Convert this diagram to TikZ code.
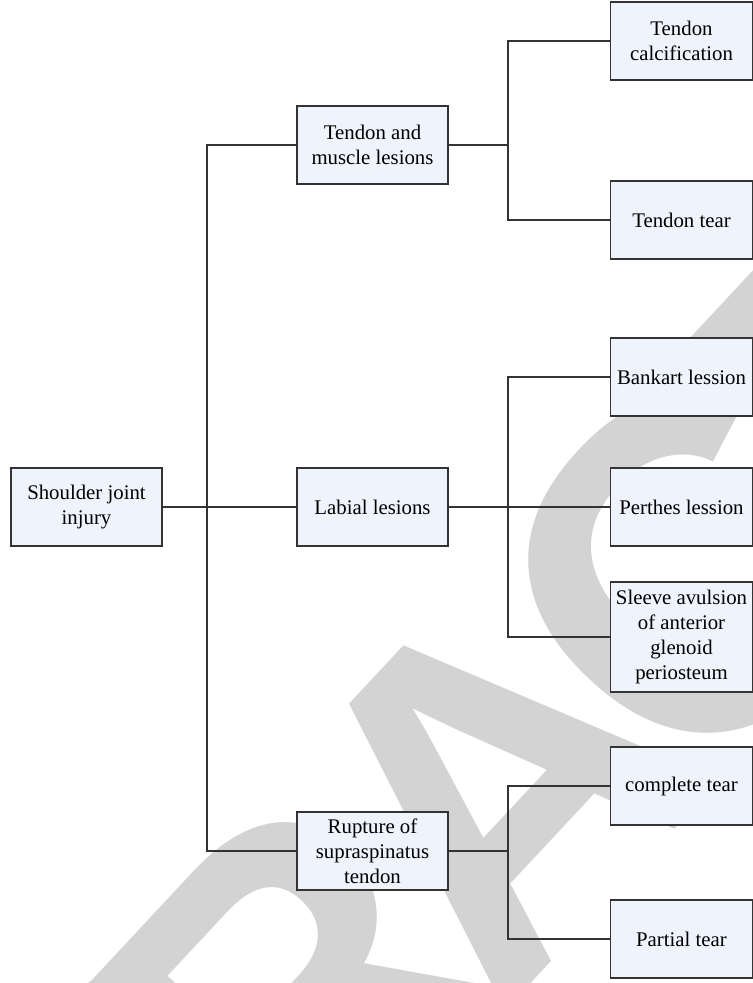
\documentclass[tikz,border=0pt]{standalone}
\usepackage{fontspec}
\setmainfont{Liberation Serif}
\newfontfamily\stampfont[LetterSpace=-10]{Liberation Sans}
\usepackage{xcolor}
\definecolor{boxfill}{RGB}{239,243,251}
\definecolor{linegray}{RGB}{51,51,51}
\definecolor{stampgray}{RGB}{211,211,211}
\usepackage{tikz}
\usetikzlibrary{positioning}
\tikzset{
  cat/.style={draw=linegray,fill=boxfill,line width=0.75pt,minimum width=75.5pt,minimum height=39pt,
    align=center,inner sep=2pt,font=\fontsize{10.4}{12.5}\selectfont},
  leafbox/.style={cat,minimum width=71pt},
  link/.style={draw=linegray,line width=0.75pt},
  stamp/.style={text=stampgray,rotate=47,inner sep=0pt,font=\stampfont\bfseries\fontsize{235}{235}\selectfont}
}

\begin{document}
\begin{tikzpicture}[x=0.5pt,y=-0.5pt]
  \useasboundingbox (0,0) rectangle (752,983);
  \begin{scope}
    \clip (0,0) rectangle (752,983);
    \node[stamp] (mark) at (495,785) {RETRACTED};
  \end{scope}

  \node[cat] (root) at (86.5,507) {Shoulder joint\\injury};
  \node[cat] (tml) at (372.5,145) {Tendon and\\muscle lesions};
  \node[cat] (lab) at (372.5,507) {Labial lesions};
  \node[cat] (rup) at (372.5,851) {Rupture of\\supraspinatus\\tendon};

  \node[leafbox] (calc) at (681.5,41) {Tendon\\calcification};
  \node[leafbox] (ttear) at (681.5,220) {Tendon tear};
  \node[leafbox] (bankart) at (681.5,377) {Bankart lession};
  \node[leafbox] (perthes) at (681.5,507) {Perthes lession};
  \node[leafbox,minimum height=55pt] (sleeve) at (681.5,637) {Sleeve avulsion\\of anterior\\glenoid\\periosteum};
  \node[leafbox] (complete) at (681.5,786) {complete tear};
  \node[leafbox] (partial) at (681.5,939) {Partial tear};

  \coordinate (trunk) at (207,507);
  \coordinate (tmlfork) at (508,145);
  \coordinate (labfork) at (508,507);
  \coordinate (rupfork) at (508,851);

  \draw[link] (root) -- (lab);
  \draw[link] (tml.west) -| (trunk) |- (rup.west);
  \draw[link] (tml) -- (tmlfork);
  \draw[link] (calc.west) -| (tmlfork) |- (ttear.west);
  \draw[link] (lab) -- (perthes);
  \draw[link] (bankart.west) -| (labfork) |- (sleeve.west);
  \draw[link] (rup) -- (rupfork);
  \draw[link] (complete.west) -| (rupfork) |- (partial.west);
\end{tikzpicture}
\end{document}
